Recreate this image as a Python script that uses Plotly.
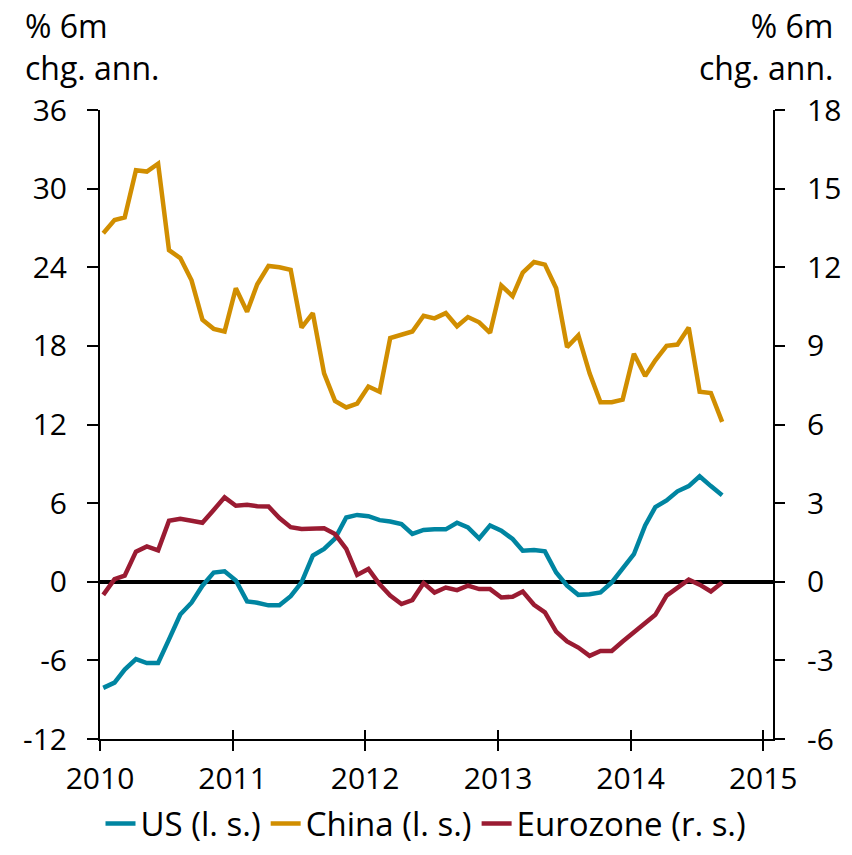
import pandas as pd
import plotly.graph_objects as go

# Monthly observations, Jan 2010 - Sep 2014
months = pd.date_range("2010-01-01", "2014-09-01", freq="MS") + pd.Timedelta(days=9)

us = [-8.1, -7.7, -6.7, -5.9, -6.2, -6.2, -4.4, -2.5, -1.6, -0.3, 0.7, 0.8,
      0.1, -1.5, -1.6, -1.8, -1.8, -1.1, -0.05, 2.0, 2.5, 3.3, 4.9, 5.1,
      5.0, 4.7, 4.6, 4.4, 3.65, 3.95, 4.0, 4.0, 4.5, 4.15, 3.3, 4.3,
      3.9, 3.26, 2.37, 2.42, 2.32, 0.71, -0.3, -1.0, -0.95, -0.82, -0.05, 0.97,
      2.1, 4.3, 5.7, 6.2, 6.9, 7.3, 8.05, 7.3, 6.6]

china = [26.6, 27.6, 27.8, 31.4, 31.3, 31.9, 25.3, 24.7, 23.0, 20.0, 19.3, 19.1,
         22.4, 20.6, 22.7, 24.1, 24.0, 23.8, 19.4, 20.5, 15.9, 13.8, 13.3, 13.6,
         14.9, 14.5, 18.6, 18.85, 19.1, 20.3, 20.1, 20.5, 19.5, 20.2, 19.8, 19.0,
         22.6, 21.8, 23.6, 24.4, 24.2, 22.4, 17.9, 18.8, 15.9, 13.7, 13.7, 13.9,
         17.4, 15.7, 16.9, 18.0, 18.1, 19.4, 14.5, 14.4, 12.2]

eurozone = [-0.5, 0.1, 0.23, 1.15, 1.35, 1.2, 2.33, 2.4, 2.33, 2.25, 2.74, 3.22,
            2.9, 2.94, 2.88, 2.87, 2.43, 2.08, 2.01, 2.01, 2.04, 1.82, 1.25, 0.26,
            0.49, -0.1, -0.53, -0.85, -0.7, -0.05, -0.41, -0.22, -0.32, -0.15, -0.28, -0.28,
            -0.6, -0.57, -0.37, -0.88, -1.17, -1.9, -2.28, -2.51, -2.83, -2.64, -2.64, -2.28,
            -1.94, -1.56, -1.26, -0.53, -0.22, 0.08, -0.11, -0.37, -0.03]

year_ticks = ["2010-01-01", "2011-01-01", "2012-01-01", "2013-01-01", "2014-01-01", "2015-01-01"]
year_labels = ["2010", "2011", "2012", "2013", "2014", "2015"]
left_ticks = [-12, -6, 0, 6, 12, 18, 24, 30, 36]
left_labels = ["-12", "-6", "0", "6", "12", "18", "24", "30", "36"]
right_ticks = [-6, -3, 0, 3, 6, 9, 12, 15, 18]
right_labels = ["-6", "-3", "0", "3", "6", "9", "12", "15", "18"]

C_US = "#0085A1"
C_CN = "#D18E00"
C_EZ = "#9A1B32"
FONT = "Open Sans"
FS_TICK = 30
FS_TEXT = 32
FS_LEG = 33

fig = go.Figure()
fig.add_trace(go.Scatter(x=months, y=us, name="US (l. s.)", mode="lines",
                         line=dict(color=C_US, width=4.5), yaxis="y"))
fig.add_trace(go.Scatter(x=months, y=china, name="China (l. s.)", mode="lines",
                         line=dict(color=C_CN, width=4.5), yaxis="y"))
fig.add_trace(go.Scatter(x=months, y=eurozone, name="Eurozone (r. s.)", mode="lines",
                         line=dict(color=C_EZ, width=4.5), yaxis="y2"))
# helper trace for the inward half of the crossing x ticks
fig.add_trace(go.Scatter(x=[months[0]], y=[0], xaxis="x2", yaxis="y", mode="lines",
                         showlegend=False, hoverinfo="skip", line=dict(width=0)))

xrange = ["2010-01-01", "2015-01-28"]
fig.update_layout(
    width=852, height=855,
    margin=dict(l=100, r=79, t=110, b=116),
    paper_bgcolor="white", plot_bgcolor="white",
    font=dict(family=FONT, size=FS_TICK, color="black"),
    showlegend=True,
    legend=dict(orientation="h", x=0.5, xanchor="center", xref="container",
                y=0.004, yanchor="bottom", yref="container",
                font=dict(size=FS_LEG), itemwidth=30, tracegroupgap=0),
    xaxis=dict(range=xrange, tickvals=year_ticks, ticktext=year_labels,
               showline=True, linecolor="black", linewidth=2,
               ticks="outside", ticklen=10, tickwidth=2, tickcolor="black",
               ticklabelstandoff=2, automargin=False,
               showgrid=False, zeroline=False, tickfont=dict(size=FS_TICK)),
    xaxis2=dict(range=xrange, tickvals=year_ticks, overlaying="x", anchor="y",
                side="bottom", ticks="inside", ticklen=9, tickwidth=2, tickcolor="black",
                showticklabels=False, showgrid=False, zeroline=False, showline=False,
                automargin=False),
    yaxis=dict(range=[-12, 36], tickvals=left_ticks, ticktext=left_labels,
               showline=True, linecolor="black",
               linewidth=2, ticks="outside", ticklen=11, tickwidth=2, tickcolor="black",
               ticklabelstandoff=14, automargin=False,
               showgrid=False, zeroline=True, zerolinecolor="black", zerolinewidth=4,
               tickfont=dict(size=FS_TICK)),
    yaxis2=dict(range=[-6, 18], tickvals=right_ticks, ticktext=right_labels,
                overlaying="y", side="right",
                showline=True, linecolor="black", linewidth=2, ticks="outside",
                ticklen=10, tickwidth=2, tickcolor="black", showgrid=False,
                ticklabelstandoff=16, automargin=False,
                zeroline=False, tickfont=dict(size=FS_TICK)),
    annotations=[
        dict(text="% 6m<br>chg. ann.", xref="paper", yref="paper", x=-0.115, y=1.172,
             xanchor="left", yanchor="top", align="left", showarrow=False,
             font=dict(size=FS_TEXT)),
        dict(text="% 6m<br>chg. ann.", xref="paper", yref="paper", x=1.092, y=1.172,
             xanchor="right", yanchor="top", align="right", showarrow=False,
             font=dict(size=FS_TEXT)),
    ],
)
fig.write_html("out.html", config={"displayModeBar": False},
               post_script="document.body.style.margin='0';")
